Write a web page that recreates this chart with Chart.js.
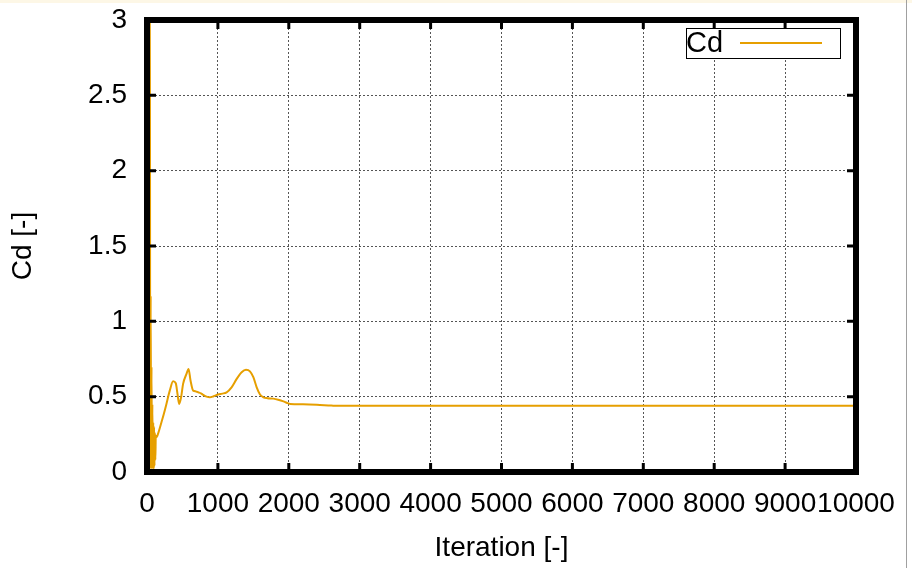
<!DOCTYPE html>
<html>
<head>
<meta charset="utf-8">
<script src="https://cdn.jsdelivr.net/npm/chart.js@4.4.1/dist/chart.umd.min.js"></script>
<style>
  body { margin: 0; background: #fff; }
  #wrap { position: relative; width: 912px; height: 568px; }
  #topstrip { position: absolute; left: 0; top: 0; width: 912px; height: 3px; background: #fdf7e6; }
  #edge { position: absolute; left: 906px; top: 0; width: 1px; height: 568px; background: #a0a0a0; }
</style>
</head>
<body>
<div id="wrap">
  <canvas id="cd" width="912" height="568"></canvas>
  <div id="topstrip"></div>
  <div id="edge"></div>
</div>
<script>
// Cd vs iteration
const iteraciones = [0, 30, 40, 46, 52, 58, 64, 70, 76, 82, 88, 94, 100, 106, 112, 118, 124, 133,
  160, 204, 240, 274, 321, 368, 406, 430, 453, 481, 509, 557, 586, 614, 651, 690, 721, 760, 792,
  840, 887, 940, 1004, 1060, 1123, 1193, 1265, 1335, 1396, 1452, 1500, 1547, 1594, 1641, 1700,
  1782, 1850, 1924, 1970, 2018, 2200, 2396, 2600, 2726, 3000, 4000, 5000, 6000, 7000, 8000, 9000, 10000];
const cd = [0.3, 0.1, 3.6, 0.02, 1.17, 0.03, 0.7, 0.02, 0.45, 0.03, 0.33, 0.02, 0.3, 0.04, 0.26, 0.08, 0.24, 0.231,
  0.26, 0.33, 0.39, 0.452, 0.54, 0.602, 0.589, 0.519, 0.452, 0.496, 0.585, 0.651, 0.684, 0.607, 0.54, 0.535, 0.529, 0.522, 0.512,
  0.5, 0.496, 0.503, 0.514, 0.52, 0.529, 0.562, 0.618, 0.662, 0.678, 0.668, 0.629, 0.562, 0.514, 0.496, 0.49,
  0.487, 0.48, 0.469, 0.46, 0.452, 0.449, 0.446, 0.441, 0.439, 0.439, 0.439, 0.439, 0.439, 0.439, 0.439, 0.439, 0.439];

const xTicks = ['0', '1000', '2000', '3000', '4000', '5000', '6000', '7000', '8000', '9000', '10000'];
const yTicks = ['0', '0.5', '1', '1.5', '2', '2.5', '3'];

const puntos = iteraciones.map((it, i) => ({ x: it, y: cd[i] }));
const fuente = { family: 'Liberation Sans', size: 28 };
const naranja = '#e69f00';

// marco grueso, marcas internas y leyenda estilo gnuplot
const marco = {
  id: 'marco',
  afterDraw(chart) {
    const ctx = chart.ctx;
    const a = chart.chartArea;
    const sx = chart.scales.x, sy = chart.scales.y;
    ctx.save();
    ctx.strokeStyle = '#000';
    ctx.lineWidth = 3;
    ctx.beginPath();
    sy.ticks.forEach(t => {
      const y = sy.getPixelForValue(t.value);
      ctx.moveTo(a.left, y); ctx.lineTo(a.left + 9, y);
      ctx.moveTo(a.right - 9, y); ctx.lineTo(a.right, y);
    });
    sx.ticks.forEach(t => {
      const x = sx.getPixelForValue(t.value);
      ctx.moveTo(x, a.bottom); ctx.lineTo(x, a.bottom - 9);
      ctx.moveTo(x, a.top); ctx.lineTo(x, a.top + 9);
    });
    ctx.stroke();

    // leyenda
    const bx = a.right - 170, by = a.top + 8, bw = 154, bh = 30;
    ctx.fillStyle = '#fff';
    ctx.fillRect(bx, by, bw, bh);
    ctx.lineWidth = 1;
    ctx.strokeRect(bx + 0.5, by + 0.5, bw, bh);
    ctx.fillStyle = '#000';
    ctx.font = '29px "Liberation Sans"';
    ctx.textBaseline = 'middle';
    ctx.textAlign = 'left';
    ctx.fillText(chart.data.datasets[0].label, bx, by + bh / 2 + 1);
    ctx.strokeStyle = naranja;
    ctx.lineWidth = 2;
    ctx.beginPath();
    ctx.moveTo(bx + 54, by + bh / 2);
    ctx.lineTo(bx + 136, by + bh / 2);
    ctx.stroke();

    // marco
    ctx.strokeStyle = '#000';
    ctx.lineWidth = 6;
    ctx.strokeRect(a.left, a.top, a.right - a.left, a.bottom - a.top);
    ctx.restore();
  }
};

new Chart(document.getElementById('cd'), {
  type: 'line',
  data: {
    datasets: [{
      label: 'Cd',
      data: puntos,
      borderColor: naranja,
      borderWidth: 2,
      pointRadius: 0,
      fill: false,
      tension: 0,
      cubicInterpolationMode: 'monotone'
    }]
  },
  options: {
    responsive: false,
    animation: false,
    layout: { padding: { top: 20, right: 56, left: 0, bottom: 0 } },
    plugins: { legend: { display: false }, tooltip: { enabled: false } },
    scales: {
      x: {
        type: 'linear',
        min: 0,
        max: 10000,
        afterFit: s => { s.height = 96; },
        ticks: {
          stepSize: 1000,
          autoSkip: false,
          maxRotation: 0,
          color: '#000',
          font: fuente,
          padding: 15,
          callback: (v, i) => xTicks[i]
        },
        grid: { color: '#555', lineWidth: 1, drawTicks: false },
        border: { display: false, dash: [2, 2] },
        title: { display: true, text: 'Iteration [-]', color: '#000', font: fuente, padding: { top: 0, bottom: 3 } }
      },
      y: {
        min: 0,
        max: 3,
        afterFit: s => { s.width = 147; s.paddingTop = 0; s.paddingBottom = 0; },
        ticks: {
          stepSize: 0.5,
          color: '#000',
          font: fuente,
          padding: 20,
          callback: (v, i) => yTicks[i]
        },
        grid: { color: '#555', lineWidth: 1, drawTicks: false },
        border: { display: false, dash: [2, 2] },
        title: { display: true, text: 'Cd [-]', color: '#000', font: fuente, padding: { top: 6, bottom: 0 } }
      }
    }
  },
  plugins: [marco]
});
</script>
</body>
</html>
